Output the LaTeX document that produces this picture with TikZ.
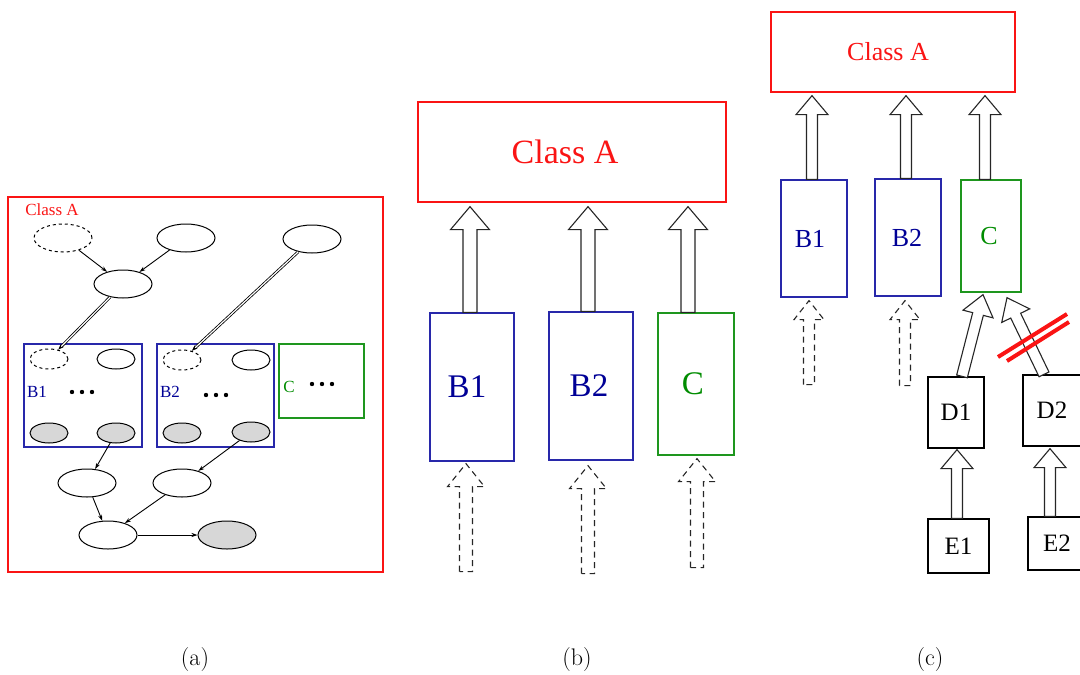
\documentclass[tikz,border=0pt]{standalone}
\usepackage{fontspec}
\usetikzlibrary{shapes.geometric,calc,arrows.meta}
\newfontfamily\tms{Liberation Serif}
\definecolor{navy}{RGB}{0,0,150}
\definecolor{navyline}{RGB}{40,40,170}
\definecolor{grn}{RGB}{0,140,0}
\definecolor{grnline}{RGB}{30,150,30}
\definecolor{redline}{RGB}{250,20,20}
\definecolor{shade}{RGB}{215,215,215}
% #1 style, #2 from, #3 to, #4 half shaft, #5 half head, #6 head length
\newcommand\blockarrow[6]{%
  \coordinate (ba-h) at ($(#3)!#6!(#2)$);
  \draw[#1] ($(#2)!#4!90:(#3)$) -- ($(ba-h)!#4!90:(#3)$) -- ($(ba-h)!#5!90:(#3)$) -- (#3)
    -- ($(ba-h)!#5!-90:(#3)$) -- ($(ba-h)!#4!-90:(#3)$) -- ($(#2)!#4!-90:(#3)$) -- cycle;
}
\begin{document}
\begin{tikzpicture}[x=1pt,y=-1pt,
  ell/.style={ellipse, draw, minimum width=58pt, minimum height=28pt, inner sep=0pt, line width=1pt},
  sell/.style={ellipse, draw, minimum width=38pt, minimum height=20pt, inner sep=0pt, line width=1pt},
  grayfill/.style={fill=shade},
  box/.style={draw, rectangle, inner sep=0pt, line width=1.3pt},
  thinarrow/.style={line width=0.9pt, -{Stealth[length=6pt,width=4pt]}},
  dblarrow/.style={double, double distance=1.2pt, line width=0.8pt, -{Stealth[length=6pt,width=4pt]}},
  solidblock/.style={draw=black!85, line width=1.1pt, fill=white},
  dashblock/.style={draw=black!85, line width=1.1pt, dash pattern=on 6pt off 4.5pt},
  lab/.style={font=\fontsize{24}{28}\selectfont},
]
\useasboundingbox (0,0) rectangle (1080,675);
\clip (0,0) rectangle (1080,675);

% ================= panel (a) =================
\node[box, draw=redline, minimum width=375pt, minimum height=375pt] (frameA) at (195.5,384.5) {};
\node[text=redline, font=\tms\fontsize{17}{20}\selectfont, inner sep=0pt] (clsA) at (52,210) {Class A};

\node[ell, dashed] (e1) at (63,238) {};
\node[ell] (e2) at (186,238) {};
\node[ell] (e3) at (312,239) {};
\node[ell] (e4) at (123,284) {};

\node[box, draw=navyline, minimum width=118pt, minimum height=103pt] (aB1) at (83,395.5) {};
\node[box, draw=navyline, minimum width=117pt, minimum height=103pt] (aB2) at (215.5,395.5) {};
\node[box, draw=grnline, minimum width=85pt, minimum height=74pt] (aC) at (321.5,381) {};

\node[sell, dashed] (b1d) at (49,359) {};
\node[sell] (b1e) at (116,359) {};
\node[sell, grayfill] (b1g) at (49,433) {};
\node[sell, grayfill] (b1h) at (116,433) {};
\node[sell, dashed] (b2d) at (182,360) {};
\node[sell] (b2e) at (251,360) {};
\node[sell, grayfill] (b2g) at (182,433) {};
\node[sell, grayfill] (b2h) at (251,432) {};

\node[text=navy, font=\tms\fontsize{17}{20}\selectfont, inner sep=0pt] (lb1) at (37,392) {B1};
\node[text=navy, font=\tms\fontsize{17}{20}\selectfont, inner sep=0pt] (lb2) at (170,392) {B2};
\node[text=grn, font=\tms\fontsize{17}{20}\selectfont, inner sep=0pt] (lc) at (289,387) {C};
\foreach \x in {72,82,92} \fill (\x,392) circle (2.2pt);
\foreach \x in {206,216,226} \fill (\x,395) circle (2.2pt);
\foreach \x in {312,322,332} \fill (\x,384) circle (2.2pt);

\node[ell] (f1) at (87,483) {};
\node[ell] (f2) at (182,483) {};
\node[ell] (g1) at (108,535) {};
\node[ell, grayfill] (g2) at (227,535) {};

\draw[thinarrow] (e1) -- (e4);
\draw[thinarrow] (e2) -- (e4);
\draw[dblarrow] (e4) -- (b1d);
\draw[dblarrow] (e3) -- (b2d);
\draw[thinarrow] (b1h) -- (f1);
\draw[thinarrow] (b2h) -- (f2);
\draw[thinarrow] (f1) -- (g1);
\draw[thinarrow] (f2) -- (g1);
\draw[thinarrow] (g1) -- (g2);

% ================= panel (b) =================
\node[box, draw=redline, minimum width=308pt, minimum height=100pt, text=redline,
      font=\tms\fontsize{34}{40}\selectfont] (clsB) at (572,152) {\hspace*{-14pt}Class A};
\node[box, draw=navyline, minimum width=84pt, minimum height=148pt, text=navy,
      font=\tms\fontsize{33}{40}\selectfont] (bB1) at (472,387) {\hspace*{-10pt}B1};
\node[box, draw=navyline, minimum width=84pt, minimum height=148pt, text=navy,
      font=\tms\fontsize{33}{40}\selectfont] (bB2) at (591,386) {\hspace*{-4pt}B2};
\node[box, draw=grnline, minimum width=76pt, minimum height=142pt, text=grn,
      font=\tms\fontsize{33}{40}\selectfont] (bC) at (696,384) {\hspace*{-6pt}C};

\coordinate (bB1f) at ($(bB1.north)+(-2,0)$);
\coordinate (bB1t) at ($(bB1f |- clsB.south)+(0,4)$);
\coordinate (bB2f) at ($(bB2.north)+(-3,0)$);
\coordinate (bB2t) at ($(bB2f |- clsB.south)+(0,4)$);
\coordinate (bCf) at ($(bC.north)+(-8,0)$);
\coordinate (bCt) at ($(bCf |- clsB.south)+(0,4)$);
\blockarrow{solidblock}{bB1f}{bB1t}{7pt}{19.5pt}{23pt}
\blockarrow{solidblock}{bB2f}{bB2t}{7pt}{19.5pt}{23pt}
\blockarrow{solidblock}{bCf}{bCt}{7pt}{19.5pt}{23pt}

\coordinate (dB1t) at ($(bB1.south)+(-6,2)$);
\coordinate (dB1f) at ($(bB1.south)+(-6,110)$);
\coordinate (dB2t) at ($(bB2.south)+(-3,5)$);
\coordinate (dB2f) at ($(bB2.south)+(-3,113)$);
\coordinate (dCt) at ($(bC.south)+(1,3)$);
\coordinate (dCf) at ($(bC.south)+(1,112)$);
\blockarrow{dashblock}{dB1f}{dB1t}{6.5pt}{18.5pt}{23pt}
\blockarrow{dashblock}{dB2f}{dB2t}{6.5pt}{18.5pt}{23pt}
\blockarrow{dashblock}{dCf}{dCt}{6.5pt}{18.5pt}{23pt}

% ================= panel (c) =================
\node[box, draw=redline, minimum width=244pt, minimum height=80pt, text=redline,
      font=\tms\fontsize{26}{30}\selectfont] (clsC) at (893,52) {\hspace*{-10pt}Class A};
\node[box, draw=navyline, minimum width=66pt, minimum height=117pt, text=navy,
      font=\tms\fontsize{26}{30}\selectfont] (cB1) at (814,238.5) {\hspace*{-8pt}B1};
\node[box, draw=navyline, minimum width=66pt, minimum height=117pt, text=navy,
      font=\tms\fontsize{26}{30}\selectfont] (cB2) at (908,237.5) {\hspace*{-2pt}B2};
\node[box, draw=grnline, minimum width=60pt, minimum height=112pt, text=grn,
      font=\tms\fontsize{26}{30}\selectfont] (cC) at (991,236) {\hspace*{-4pt}C};
\node[box, minimum width=56pt, minimum height=71pt,
      font=\tms\fontsize{25}{30}\selectfont] (D1) at (956,412.5) {D1};
\node[box, minimum width=58pt, minimum height=71pt,
      font=\tms\fontsize{25}{30}\selectfont] (D2) at (1052,410.5) {D2};
\node[box, minimum width=61pt, minimum height=54pt,
      font=\tms\fontsize{25}{30}\selectfont] (E1) at (958.5,546) {E1};
\node[box, minimum width=58pt, minimum height=53pt,
      font=\tms\fontsize{25}{30}\selectfont] (E2) at (1057,543.5) {E2};

\coordinate (cB1f) at ($(cB1.north)+(-2,0)$);
\coordinate (cB1t) at ($(cB1f |- clsC.south)+(0,3)$);
\coordinate (cB2f) at ($(cB2.north)+(-2,0)$);
\coordinate (cB2t) at ($(cB2f |- clsC.south)+(0,3)$);
\coordinate (cCf) at ($(cC.north)+(-6,0)$);
\coordinate (cCt) at ($(cCf |- clsC.south)+(0,3)$);
\blockarrow{solidblock}{cB1f}{cB1t}{5.5pt}{16pt}{19pt}
\blockarrow{solidblock}{cB2f}{cB2t}{5.5pt}{16pt}{19pt}
\blockarrow{solidblock}{cCf}{cCt}{5.5pt}{16pt}{19pt}

\coordinate (cdB1t) at ($(cB1.south)+(-5,3)$);
\coordinate (cdB1f) at ($(cB1.south)+(-5,87)$);
\coordinate (cdB2t) at ($(cB2.south)+(-3,4)$);
\coordinate (cdB2f) at ($(cB2.south)+(-3,89)$);
\blockarrow{dashblock}{cdB1f}{cdB1t}{5.5pt}{15pt}{19pt}
\blockarrow{dashblock}{cdB2f}{cdB2t}{5.5pt}{15pt}{19pt}

\coordinate (d1f) at ($(D1.north)+(6,0)$);
\coordinate (d1t) at ($(cC.south)+(-8,2)$);
\coordinate (d2f) at ($(D2.north)+(-8,0)$);
\coordinate (d2t) at ($(cC.south)+(16,5)$);
\blockarrow{solidblock}{d1f}{d1t}{5.5pt}{15.5pt}{20pt}
\blockarrow{solidblock}{d2f}{d2t}{5.5pt}{15.5pt}{20pt}

\coordinate (e1f) at ($(E1.north)+(-1.5,0)$);
\coordinate (e1t) at ($(D1.south)+(1,1)$);
\coordinate (e2f) at ($(E2.north)+(-7,0)$);
\coordinate (e2t) at ($(D2.south)+(-2,2)$);
\blockarrow{solidblock}{e1f}{e1t}{5.5pt}{16pt}{19pt}
\blockarrow{solidblock}{e2f}{e2t}{5.5pt}{16pt}{19pt}

\draw[redline, line width=4pt] (998,357) -- (1067,314);
\draw[redline, line width=4pt] (1007,361) -- (1069,322);

% ================= captions =================
\node[lab] (capa) at (195,660) {(a)};
\node[lab] (capb) at (577,660) {(b)};
\node[lab] (capc) at (930,660) {(c)};
\end{tikzpicture}
\end{document}
